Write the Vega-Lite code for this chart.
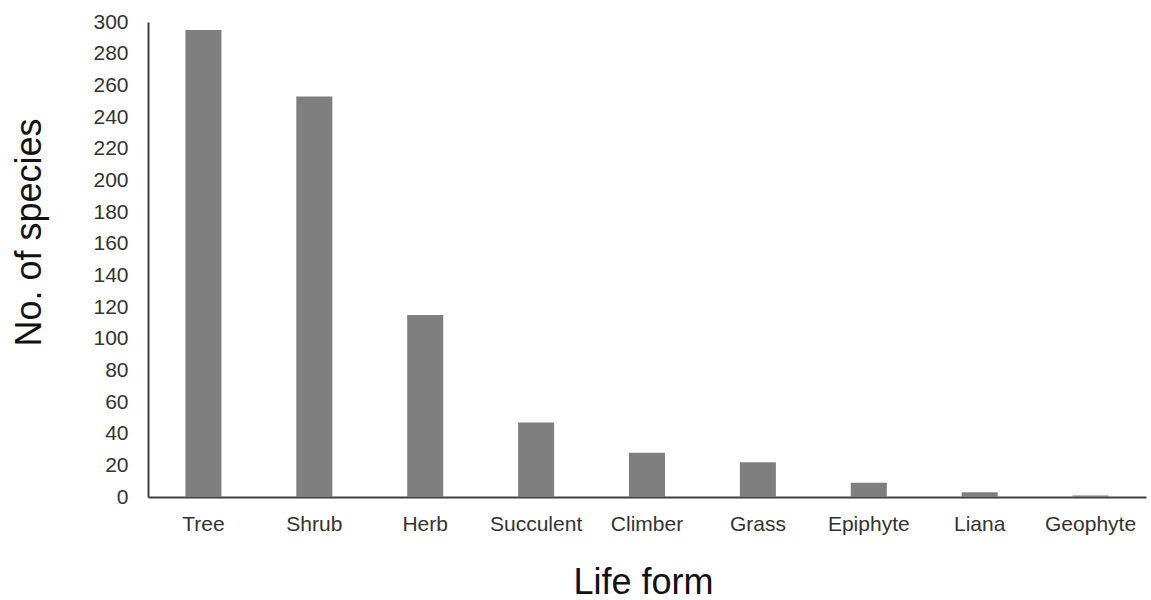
{
  "$schema": "https://vega.github.io/schema/vega-lite/v6.json",
  "width": 998,
  "height": 475,
  "autosize": {"type": "none"},
  "padding": {"left": 148, "top": 22, "right": 5, "bottom": 103},
  "background": "white",
  "config": {"view": {"stroke": null}, "font": "Liberation Sans"},
  "data": {"values": [
    {"form": "Tree", "n": 295},
    {"form": "Shrub", "n": 253},
    {"form": "Herb", "n": 115},
    {"form": "Succulent", "n": 47},
    {"form": "Climber", "n": 28},
    {"form": "Grass", "n": 22},
    {"form": "Epiphyte", "n": 9},
    {"form": "Liana", "n": 3},
    {"form": "Geophyte", "n": 1}
  ]},
  "mark": {"type": "bar", "color": "#7f7f7f"},
  "encoding": {
    "x": {
      "field": "form", "type": "nominal", "sort": null,
      "scale": {"paddingInner": 0.675, "paddingOuter": 0.3375},
      "axis": {
        "title": "Life form", "labelAngle": 0, "ticks": false,
        "domainColor": "#404040", "domainWidth": 2,
        "labelFontSize": 21, "labelColor": "#333333", "labelPadding": 16,
        "titleFontSize": 36, "titleFontWeight": "normal", "titleColor": "#111111", "titlePadding": 31,
        "titleX": 495
      }
    },
    "y": {
      "field": "n", "type": "quantitative",
      "scale": {"domain": [0, 300], "nice": false},
      "axis": {
        "title": "No. of species", "values": [0,20,40,60,80,100,120,140,160,180,200,220,240,260,280,300],
        "grid": false, "ticks": false,
        "domainColor": "#404040", "domainWidth": 2,
        "labelFontSize": 21, "labelColor": "#333333", "labelPadding": 20,
        "titleFontSize": 36, "titleFontWeight": "normal", "titleColor": "#111111", "titlePadding": 44,
        "titleY": 210
      }
    }
  }
}
